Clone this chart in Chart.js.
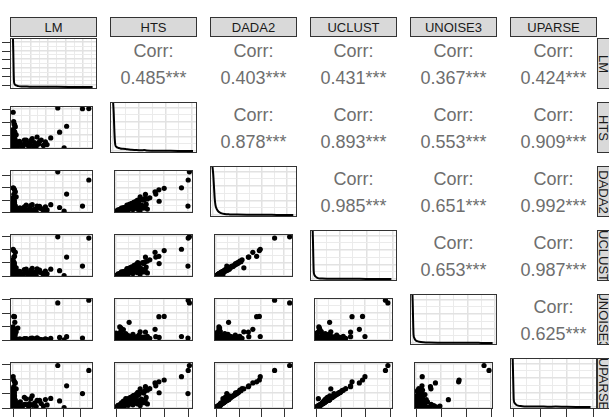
<!DOCTYPE html>
<html>
<head>
<meta charset="utf-8">
<script src="https://cdn.jsdelivr.net/npm/chart.js@4.4.0/dist/chart.umd.min.js"></script>
<style>
  html, body { margin: 0; padding: 0; background: #fff; }
  #wrap { position: relative; width: 609px; height: 417px; overflow: hidden; font-family: "Liberation Sans", Arial, sans-serif; }
  #wrap canvas { position: absolute; }
  .strip { position: absolute; background: #d9d9d9; border: 1px solid #333; box-sizing: border-box; overflow: hidden;
           color: #1a1a1a; font-size: 13px; display: flex; align-items: center; justify-content: center; }
  .vtext { position: absolute; width: 51px; height: 20px; display: flex; align-items: center; justify-content: center;
           transform: rotate(90deg); white-space: nowrap; }
  .corr { position: absolute; width: 87px; height: 22px; line-height: 22px; text-align: center; color: #6e6e6e; font-size: 18px; white-space: nowrap; }
</style>
</head>
<body>
<div id="wrap"></div>
<script>
// variable names (facet labels)
const methods = ['LM', 'HTS', 'DADA2', 'UCLUST', 'UNOISE3', 'UPARSE'];

// per-sample values (axis units, one entry per sample)
const lm      = [2.69, 4.55, 4.17, 3.22, 2.80, 3.07, 0.02, 0.05, 0.10, 0.15, 0.08, 0.12, 0.20, 0.06, 2.27, 0.30, 0.04, 0.45, 0.69, 0.85,
                 1.07, 1.16, 1.30, 1.45, 1.55, 1.70, 1.83, 1.95, 0.95, 1.20, 0.60, 0.00, 0.03, 0.05, 0.02, 0.07, 0.10, 0.01, 0.04, 0.12,
                 0.00, 0.06, 0.15, 0.03, 0.08, 0.02, 0.05, 0.10, 0.01, 0.04, 0.02, 0.06, 0.09, 0.03, 0.00, 0.01, 0.02, 0.03, 0.04, 0.05,
                 0.06, 0.07, 0.08, 0.09, 0.10, 0.11, 0.12, 0.13, 0.14, 0.02, 0.03, 0.00, 0.01, 0.04, 0.05, 0.06, 0.07, 0.08, 0.02, 0.09,
                 0.10, 0.03, 0.11, 0.04, 0.05, 0.06, 0.25, 0.35, 0.50, 0.70, 0.40, 1.00, 1.40, 1.60, 2.05, 0.80, 0.00, 0.01, 0.02, 0.03];
const hts     = [3.05, 3.00, 2.99, 1.65, 1.20, 0.00, 2.72, 2.00, 1.78, 1.62, 1.79, 0.54, 1.00, 1.22, 0.76, 0.20, 0.40, 0.35, 0.60, 0.25,
                 0.55, 0.70, 0.40, 0.83, 0.30, 0.60, 0.18, 0.45, 0.10, 0.15, 0.07, 1.30, 1.15, 0.25, 0.85, 1.25, 0.70, 0.15, 0.35, 0.20,
                 0.10, 0.05, 0.60, 1.10, 0.90, 0.55, 0.90, 0.75, 1.40, 0.00, 0.30, 0.80, 1.00, 0.65, 0.85, 0.05, 0.12, 0.20, 0.28, 0.35,
                 0.45, 0.55, 0.65, 0.75, 0.95, 1.05, 1.20, 0.50, 0.40, 0.30, 0.15, 0.08, 0.22, 0.45, 0.60, 0.75, 0.95, 1.10, 1.20, 0.35,
                 0.50, 0.70, 0.85, 1.00, 1.15, 1.30, 0.10, 0.22, 0.15, 0.30, 0.50, 0.35, 0.12, 0.50, 0.25, 0.60, 0.00, 0.02, 0.10, 0.18];
const dada2   = [3.27, 2.60, 0.47, 1.45, 0.35, 0.05, 1.96, 1.92, 1.80, 1.63, 0.86, 0.55, 1.23, 1.43, 0.58, 0.15, 0.30, 0.30, 0.40, 0.15,
                 0.50, 0.58, 0.20, 0.47, 0.35, 0.25, 0.10, 0.40, 0.05, 0.12, 0.10, 1.05, 0.95, 0.15, 0.70, 0.62, 0.52, 0.12, 0.30, 0.18,
                 0.08, 0.03, 0.28, 0.40, 0.20, 0.60, 0.95, 0.75, 1.15, 0.00, 0.12, 0.35, 0.10, 0.68, 0.90, 0.02, 0.05, 0.08, 0.12, 0.16,
                 0.20, 0.25, 0.32, 0.38, 0.45, 0.55, 0.50, 0.45, 0.38, 0.25, 0.20, 0.15, 0.30, 0.55, 0.62, 0.80, 0.85, 1.00, 1.10, 0.10,
                 0.14, 0.18, 0.28, 0.35, 0.30, 0.22, 0.05, 0.12, 0.08, 0.20, 0.30, 0.25, 0.06, 0.45, 0.15, 0.55, 0.01, 0.00, 0.04, 0.06];
const uclust  = [2.93, 2.83, 0.72, 1.40, 0.38, 0.00, 1.99, 1.89, 1.46, 1.76, 0.91, 0.54, 0.59, 1.40, 0.49, 0.12, 0.08, 0.28, 0.45, 0.18,
                 0.40, 0.55, 0.25, 0.52, 0.30, 0.22, 0.08, 0.35, 0.04, 0.10, 0.06, 1.10, 0.92, 0.12, 0.72, 0.65, 0.50, 0.10, 0.32, 0.20,
                 0.09, 0.02, 0.30, 0.38, 0.22, 0.58, 0.98, 0.70, 1.20, 0.01, 0.14, 0.33, 0.12, 0.66, 0.88, 0.03, 0.05, 0.07, 0.13, 0.15,
                 0.19, 0.26, 0.30, 0.37, 0.44, 0.52, 0.48, 0.45, 0.36, 0.24, 0.18, 0.14, 0.28, 0.53, 0.60, 0.78, 0.83, 0.98, 1.05, 0.11,
                 0.13, 0.17, 0.27, 0.34, 0.28, 0.21, 0.05, 0.10, 0.07, 0.18, 0.32, 0.22, 0.05, 0.42, 0.14, 0.50, 0.00, 0.01, 0.03, 0.06];
const unoise3 = [2.72, 2.92, 0.13, 0.23, 0.17, 0.00, 0.24, 1.72, 1.70, 0.77, 0.17, 1.29, 0.59, 0.57, 0.11, 0.86, 0.10, 0.05, 0.08, 0.03,
                 0.10, 0.12, 0.06, 0.15, 0.05, 0.02, 0.00, 0.07, 0.02, 0.00, 0.01, 0.25, 0.20, 0.70, 0.22, 0.18, 0.40, 0.95, 0.12, 0.60,
                 0.05, 0.30, 0.08, 0.14, 0.04, 0.02, 0.06, 0.03, 0.10, 0.50, 0.75, 0.02, 0.01, 0.05, 0.20, 0.02, 0.04, 0.03, 0.05, 0.10,
                 0.06, 0.12, 0.08, 0.15, 0.10, 0.20, 0.06, 0.30, 0.45, 0.35, 0.20, 0.15, 0.08, 0.05, 0.25, 0.12, 0.35, 0.15, 0.05, 0.02,
                 0.01, 0.03, 0.06, 0.10, 0.04, 0.07, 0.01, 0.03, 0.02, 0.04, 0.05, 0.03, 0.01, 0.04, 0.02, 0.09, 0.10, 0.22, 0.40, 0.55];
const uparse  = [2.90, 2.56, 0.96, 1.50, 0.46, 0.00, 2.13, 1.90, 1.77, 1.70, 1.02, 0.54, 1.29, 1.44, 0.63, 0.02, 0.61, 0.40, 0.71, 0.20,
                 0.61, 0.81, 0.30, 0.50, 0.45, 0.28, 0.10, 0.55, 0.05, 0.15, 0.12, 1.20, 1.00, 0.14, 0.78, 0.70, 0.55, 0.10, 0.35, 0.22,
                 0.10, 0.04, 0.32, 0.42, 0.25, 0.65, 1.05, 0.80, 1.30, 0.00, 0.08, 0.36, 0.14, 0.72, 0.95, 0.03, 0.06, 0.09, 0.14, 0.18,
                 0.22, 0.27, 0.34, 0.40, 0.48, 0.58, 0.52, 0.48, 0.40, 0.27, 0.21, 0.16, 0.32, 0.58, 0.66, 0.84, 0.90, 1.06, 1.16, 0.12,
                 0.15, 0.19, 0.30, 0.38, 0.33, 0.25, 0.06, 0.13, 0.09, 0.22, 0.33, 0.28, 0.07, 0.50, 0.18, 0.60, 0.01, 0.00, 0.05, 0.04];

// density curves on the diagonal (x in axis units, y relative to the peak)
const lmDensX      = [0.00, 0.02, 0.04, 0.06, 0.10, 0.15, 0.22, 0.30, 0.50, 0.80, 1.20, 1.80, 2.50, 3.20, 3.90, 4.55];
const lmDensY      = [1.00, 0.70, 0.30, 0.11, 0.06, 0.04, 0.03, 0.02, 0.012, 0.010, 0.008, 0.006, 0.005, 0.004, 0.003, 0.003];
const htsDensX     = [0.03, 0.05, 0.07, 0.09, 0.11, 0.15, 0.20, 0.30, 0.40, 0.53, 0.70, 0.90, 1.10, 1.20, 1.30, 1.50, 2.00, 2.50, 3.05];
const htsDensY     = [1.00, 0.80, 0.50, 0.25, 0.13, 0.09, 0.07, 0.055, 0.048, 0.040, 0.030, 0.020, 0.015, 0.020, 0.012, 0.008, 0.006, 0.004, 0.003];
const dada2DensX   = [0.00, 0.03, 0.06, 0.09, 0.12, 0.18, 0.25, 0.35, 0.49, 0.70, 1.00, 1.50, 2.00, 2.60, 3.27];
const dada2DensY   = [1.00, 0.85, 0.60, 0.35, 0.21, 0.12, 0.07, 0.04, 0.022, 0.014, 0.010, 0.007, 0.005, 0.004, 0.003];
const uclustDensX  = [0.00, 0.01, 0.02, 0.03, 0.04, 0.07, 0.11, 0.16, 0.23, 0.35, 0.60, 1.00, 1.50, 2.00, 2.50, 2.93];
const uclustDensY  = [1.00, 0.80, 0.55, 0.30, 0.15, 0.08, 0.05, 0.03, 0.015, 0.010, 0.008, 0.006, 0.005, 0.004, 0.003, 0.003];
const unoise3DensX = [0.00, 0.01, 0.02, 0.03, 0.04, 0.07, 0.11, 0.17, 0.25, 0.40, 0.60, 1.00, 1.50, 2.00, 2.50, 2.92];
const unoise3DensY = [1.00, 0.80, 0.55, 0.32, 0.17, 0.10, 0.06, 0.04, 0.028, 0.018, 0.012, 0.008, 0.006, 0.005, 0.004, 0.003];
const uparseDensX  = [0.00, 0.01, 0.02, 0.03, 0.04, 0.08, 0.13, 0.20, 0.30, 0.45, 0.70, 1.00, 1.30, 1.60, 2.00, 2.50, 2.90];
const uparseDensY  = [1.00, 0.80, 0.55, 0.32, 0.15, 0.08, 0.05, 0.03, 0.020, 0.014, 0.010, 0.012, 0.008, 0.010, 0.005, 0.004, 0.003];

// correlation labels, upper triangle row by row
const corrValues = ['0.485', '0.403', '0.431', '0.367', '0.424',
                    '0.878', '0.893', '0.553', '0.909',
                    '0.985', '0.651', '0.992',
                    '0.653', '0.987',
                    '0.625'];

// axis ranges and breaks
const axisLimits = [[-0.17, 4.8], [-0.09, 3.2], [-0.1, 3.42], [-0.1, 3.14], [-0.09, 3.08], [-0.1, 3.14]];
const lmTicks = [0, 1, 2, 3, 4];
const countTicks = [0, 1, 2, 3];
const densLimits = [-0.04, 1.02];
const lmDensTicks = [0.04, 0.22, 0.40, 0.58, 0.76, 0.94];
const densGrid = [0, 0.3, 0.6, 0.9];

const vars = [lm, hts, dada2, uclust, unoise3, uparse];
const densX = [lmDensX, htsDensX, dada2DensX, uclustDensX, unoise3DensX, uparseDensX];
const densY = [lmDensY, htsDensY, dada2DensY, uclustDensY, unoise3DensY, uparseDensY];
const varTicks = [lmTicks, countTicks, countTicks, countTicks, countTicks, countTicks];

const PANEL_W = 87, PANEL_H = 51, PITCH_X = 100, PITCH_Y = 64, LEFT0 = 10, TOP0 = 38, TICK = 8;
const wrap = document.getElementById('wrap');

// minor breaks half way between majors
function minorsOf(majors, lim) {
  const step = majors[1] - majors[0];
  const out = [];
  for (let v = majors[0] - step / 2; v <= lim[1]; v += step) {
    if (v >= lim[0]) out.push(v);
  }
  return out;
}

function gridScale(lim, majors) {
  const minors = minorsOf(majors, lim);
  return {
    type: 'linear', min: lim[0], max: lim[1], bounds: 'data',
    afterBuildTicks: s => {
      s.ticks = majors.map(v => ({ value: v, major: true })).concat(minors.map(v => ({ value: v, major: false })));
    },
    ticks: { display: false },
    border: { display: false },
    grid: {
      drawTicks: false,
      color: c => (c.tick && c.tick.major) ? '#e2e2e2' : '#ebebeb',
      lineWidth: c => (c.tick && c.tick.major) ? 1.5 : 1
    }
  };
}

// panel border + outside tick marks
const frame = {
  id: 'frame',
  afterDatasetsDraw(chart, args, opts) {
    const { ctx, chartArea: a } = chart;
    ctx.save();
    ctx.strokeStyle = '#333';
    ctx.lineWidth = 1;
    ctx.strokeRect(a.left + 0.5, a.top + 0.5, a.width - 1, a.height - 1);
    if (opts.yTicks) {
      opts.yTicks.forEach(v => {
        const y = Math.round(chart.scales.y.getPixelForValue(v)) + 0.5;
        ctx.beginPath(); ctx.moveTo(a.left - TICK, y); ctx.lineTo(a.left, y); ctx.stroke();
      });
    }
    if (opts.xTicks) {
      opts.xTicks.forEach(v => {
        const x = Math.round(chart.scales.x.getPixelForValue(v)) + 0.5;
        ctx.beginPath(); ctx.moveTo(x, a.bottom); ctx.lineTo(x, a.bottom + TICK); ctx.stroke();
      });
    }
    ctx.restore();
  }
};

function addPanel(r, c) {
  const padL = c === 0 ? TICK + 1 : 0;
  const padB = r === 5 ? TICK + 1 : 0;
  const cv = document.createElement('canvas');
  cv.width = PANEL_W + padL;
  cv.height = PANEL_H + padB;
  cv.style.left = (LEFT0 + c * PITCH_X - padL) + 'px';
  cv.style.top = (TOP0 + r * PITCH_Y) + 'px';
  wrap.appendChild(cv);

  const diag = r === c;
  let dataset, yScale, yTicks = null;
  if (diag) {
    dataset = {
      data: densX[c].map((x, i) => ({ x: x, y: densY[c][i] })),
      borderColor: '#000', borderWidth: 2, pointRadius: 0, fill: false,
      cubicInterpolationMode: 'monotone'
    };
    yScale = gridScale(densLimits, r === 0 ? lmDensTicks : densGrid);
    if (c === 0) yTicks = lmDensTicks;
  } else {
    dataset = {
      data: vars[c].map((x, i) => ({ x: x, y: vars[r][i] })),
      backgroundColor: '#000', borderWidth: 0, pointRadius: 2.6, showLine: false
    };
    yScale = gridScale(axisLimits[r], varTicks[r]);
    if (c === 0) yTicks = varTicks[r];
  }

  new Chart(cv, {
    type: diag ? 'line' : 'scatter',
    data: { datasets: [dataset] },
    options: {
      responsive: false, animation: false, devicePixelRatio: 1, events: [],
      layout: { padding: { left: padL, bottom: padB, top: 0, right: 0 } },
      plugins: {
        legend: { display: false }, tooltip: { enabled: false },
        frame: { yTicks: yTicks, xTicks: r === 5 ? varTicks[c] : null }
      },
      scales: { x: gridScale(axisLimits[c], varTicks[c]), y: yScale }
    },
    plugins: [frame]
  });
}

function addCorr(r, c, label) {
  const left = LEFT0 + c * PITCH_X, top = TOP0 + r * PITCH_Y;
  const a = document.createElement('div');
  a.className = 'corr';
  a.style.left = left + 'px'; a.style.top = (top + 2) + 'px';
  a.textContent = 'Corr:';
  const b = document.createElement('div');
  b.className = 'corr';
  b.style.left = left + 'px'; b.style.top = (top + 28.5) + 'px';
  b.textContent = label + '***';
  wrap.appendChild(a); wrap.appendChild(b);
}

let k = 0;
for (let r = 0; r < 6; r++) {
  for (let c = 0; c < 6; c++) {
    if (c <= r) addPanel(r, c);
    else addCorr(r, c, corrValues[k++]);
  }
}

// facet strips
methods.forEach((m, i) => {
  const top = document.createElement('div');
  top.className = 'strip';
  top.style.left = (LEFT0 + i * PITCH_X) + 'px';
  top.style.top = '17px';
  top.style.width = PANEL_W + 'px';
  top.style.height = '20px';
  top.textContent = m;
  wrap.appendChild(top);

  const side = document.createElement('div');
  side.className = 'strip';
  side.style.left = '597px';
  side.style.top = (TOP0 + i * PITCH_Y) + 'px';
  side.style.width = '24px';
  side.style.height = PANEL_H + 'px';
  const t = document.createElement('div');
  t.className = 'vtext';
  t.style.left = (603 - 597 - 1 - 25.5) + 'px';
  t.style.top = (PANEL_H / 2 - 1 - 10) + 'px';
  t.textContent = m;
  side.appendChild(t);
  wrap.appendChild(side);
});
</script>
</body>
</html>
